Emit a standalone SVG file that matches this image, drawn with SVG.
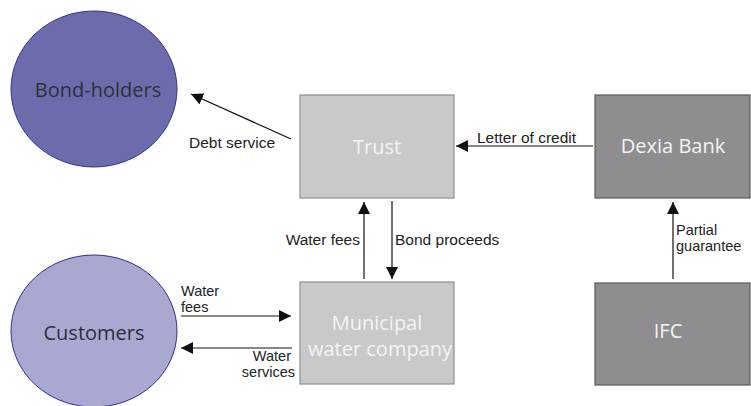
<svg xmlns="http://www.w3.org/2000/svg" width="751" height="406" viewBox="0 0 751 406">
  <style>
    .party { stroke: #2e3192; stroke-width: 1; }
    .box { stroke-width: 1.2; }
    .light { fill: #c8c9cb; stroke: #8f8f92; }
    .dark { fill: #8e8e91; stroke: #5a5a5d; }
    .node-text { font-family: "Open Sans", "Noto Sans", sans-serif; font-size: 20px; text-anchor: middle; }
    .on-circle { fill: #2f2f3a; }
    .on-box { fill: #f4f4f4; }
    .edge-text { font-family: "Liberation Sans", Arial, sans-serif; font-size: 15.5px; fill: #222; }
    .stacked { font-size: 14.5px; }
    .flow { stroke: #111; stroke-width: 1.2; fill: none; marker-end: url(#head); }
  </style>
  <defs>
    <marker id="head" viewBox="0 0 12 12" refX="12" refY="6" markerWidth="12" markerHeight="12" markerUnits="userSpaceOnUse" orient="auto">
      <path d="M0,0 L12,6 L0,12 Z" fill="#111"/>
    </marker>
  </defs>

  <!-- parties -->
  <g id="bond-holders">
    <ellipse class="party" cx="94" cy="89" rx="83" ry="78" fill="#6c6cac"/>
    <text class="node-text on-circle" x="98" y="97">Bond-holders</text>
  </g>
  <g id="customers">
    <ellipse class="party" cx="94" cy="331" rx="83" ry="76" fill="#a8a8d0"/>
    <text class="node-text on-circle" x="94" y="340">Customers</text>
  </g>

  <!-- institutions -->
  <g id="trust">
    <rect class="box light" x="300" y="95" width="154" height="103"/>
    <text class="node-text on-box" x="377" y="154">Trust</text>
  </g>
  <g id="dexia-bank">
    <rect class="box dark" x="595" y="95" width="155" height="103"/>
    <text class="node-text on-box" x="673" y="153">Dexia Bank</text>
  </g>
  <g id="water-company">
    <rect class="box light" x="300" y="282" width="154" height="102"/>
    <text class="node-text on-box" x="377" y="330">Municipal</text>
    <text class="node-text on-box" x="380" y="356">water company</text>
  </g>
  <g id="ifc">
    <rect class="box dark" x="595" y="283" width="155" height="102"/>
    <text class="node-text on-box" x="668" y="338">IFC</text>
  </g>

  <!-- flows -->
  <g id="connectors">
    <line class="flow" x1="291" y1="139" x2="191" y2="94"/>
    <line class="flow" x1="593" y1="146" x2="456" y2="146"/>
    <line class="flow" x1="364" y1="279" x2="364" y2="202"/>
    <line class="flow" x1="392" y1="201" x2="392" y2="279"/>
    <line class="flow" x1="673" y1="279" x2="673" y2="202"/>
    <line class="flow" x1="181" y1="316" x2="291" y2="316"/>
    <line class="flow" x1="292" y1="348" x2="181" y2="348"/>
  </g>

  <!-- flow labels -->
  <g id="labels" class="edge-text">
    <text x="189" y="148">Debt service</text>
    <text x="477" y="143">Letter of credit</text>
    <text x="360" y="245" text-anchor="end">Water fees</text>
    <text x="395" y="245">Bond proceeds</text>
    <text class="stacked" x="676" y="235">Partial</text>
    <text class="stacked" x="676" y="251">guarantee</text>
    <text class="stacked" x="181" y="296">Water</text>
    <text class="stacked" x="181" y="312">fees</text>
    <text class="stacked" x="291" y="361" text-anchor="end">Water</text>
    <text class="stacked" x="295" y="377" text-anchor="end">services</text>
  </g>
</svg>
